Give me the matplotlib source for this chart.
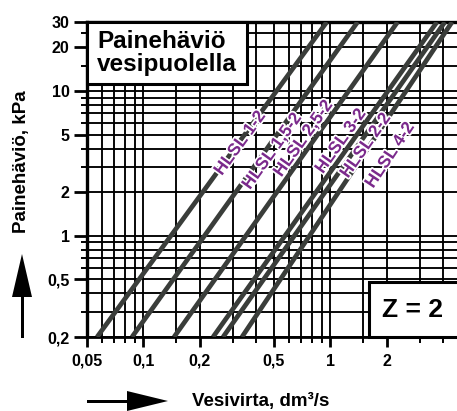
import numpy as np
import matplotlib
matplotlib.use("Agg")
import matplotlib.pyplot as plt
from matplotlib.patches import Rectangle, Polygon
from matplotlib.transforms import IdentityTransform
import matplotlib.patheffects as pe

# ---- data -------------------------------------------------------------
models = ["HLSL 1-2", "HLSL 1,5-2", "HLSL 2,5-2", "HLSL 3-2", "HLSL 2-2", "HLSL 4-2"]
# flow (dm3/s) at the bottom (0.2 kPa) and top (30 kPa) of each characteristic
dp_ends = [0.2, 30.0]
flow_at_low = [0.0566, 0.087, 0.146, 0.236, 0.267, 0.337]
flow_at_high = [0.958, 1.40, 2.29, 3.72, 4.10, 4.48]

# label anchor points (flow, pressure drop)
label_flow = [0.33, 0.49, 0.72, 1.14, 1.55, 2.09]
label_dp = [4.36, 3.84, 4.7, 4.5, 4.2, 3.6]

x_major = [0.05, 0.1, 0.2, 0.5, 1, 2]
x_major_labels = ["0,05", "0,1", "0,2", "0,5", "1", "2"]
x_minor = [0.06, 0.07, 0.08, 0.09, 0.15, 0.3, 0.4, 0.6, 0.7, 0.8, 0.9, 1.5, 3, 4]
y_major = [0.2, 0.5, 1, 2, 5, 10, 20, 30]
y_major_labels = ["0,2", "0,5", "1", "2", "5", "10", "20", "30"]
y_minor = [0.3, 0.4, 0.6, 0.7, 0.8, 0.9, 3, 4, 6, 7, 8, 9, 15, 25]

# ---- figure -----------------------------------------------------------
W, H = 457, 411
DPI = 100
plt.rcParams["font.family"] = ["Liberation Sans", "DejaVu Sans"]
plt.rcParams["font.weight"] = "bold"
fig = plt.figure(figsize=(W / DPI, H / DPI), dpi=DPI)

ax_l, ax_r, ax_t, ax_b = 87, 457, 22, 337
ax = fig.add_axes([ax_l / W, 1 - ax_b / H, (ax_r - ax_l) / W, (ax_b - ax_t) / H])
ax.set_xscale("log")
ax.set_yscale("log")
ax.set_xlim(0.05, 0.05 * 10 ** ((ax_r - ax_l) / 187))
ax.set_ylim(0.2, 30)

ax.set_xticks(x_major)
ax.set_xticklabels(x_major_labels)
ax.set_xticks(x_minor, minor=True)
ax.set_xticklabels([], minor=True)
ax.set_yticks(y_major)
ax.set_yticklabels(y_major_labels)
ax.set_yticks(y_minor, minor=True)
ax.set_yticklabels([], minor=True)

ax.tick_params(axis="x", which="major", direction="out", length=7, width=2.0,
               labelsize=11.5, pad=5)
ax.tick_params(axis="x", which="minor", direction="out", length=4.5, width=1.4)
ax.tick_params(axis="y", which="major", direction="out", length=9.5, width=2.0,
               labelsize=11.5, pad=3)
ax.tick_params(axis="y", which="minor", direction="out", length=4.5, width=1.4)
for lab in ax.get_xticklabels() + ax.get_yticklabels():
    lab.set_fontweight("bold")

ax.grid(True, which="both", color="black", linewidth=1.35)
ax.set_axisbelow(True)

for side in ("left", "top"):
    ax.spines[side].set_linewidth(2.4)
ax.spines["bottom"].set_linewidth(2.0)
ax.spines["right"].set_visible(False)

# characteristic lines
for lo, hi in zip(flow_at_low, flow_at_high):
    ax.plot([lo, hi], dp_ends, color="#3a3d3a", linewidth=3.4,
            solid_capstyle="butt", zorder=3)

# model labels rotated along each line
fig.canvas.draw()
for name, lo, hi, fx, fy in zip(models, flow_at_low, flow_at_high, label_flow, label_dp):
    p0 = ax.transData.transform((lo, dp_ends[0]))
    p1 = ax.transData.transform((hi, dp_ends[1]))
    ang = np.degrees(np.arctan2(p1[1] - p0[1], p1[0] - p0[0]))
    ax.text(fx, fy, name, rotation=ang, rotation_mode="anchor",
            ha="center", va="center", fontsize=12.5, fontweight="bold",
            color="#7b2a8c", zorder=6,
            path_effects=[pe.withStroke(linewidth=2.5, foreground="white")])

# title box in the upper left corner
box_bottom = (ax_b - 84) / (ax_b - ax_t)
ax.add_patch(Rectangle((0, box_bottom), (247 - ax_l) / (ax_r - ax_l), 1 - box_bottom,
                       transform=ax.transAxes, facecolor="white",
                       edgecolor="black", linewidth=2.2, zorder=4, clip_on=False))
ax.text((97 - ax_l) / (ax_r - ax_l), (ax_b - 53) / (ax_b - ax_t),
        "Painehäviö\nvesipuolella", transform=ax.transAxes, ha="left", va="center",
        fontsize=17.5, fontweight="bold", linespacing=1.05, zorder=5)

# pass count box in the lower right corner
z_left = (369 - ax_l) / (ax_r - ax_l)
ax.add_patch(Rectangle((z_left, 0), 1.02 - z_left, (ax_b - 282) / (ax_b - ax_t),
                       transform=ax.transAxes, facecolor="white",
                       edgecolor="black", linewidth=2.2, zorder=4, clip_on=False))
ax.text((412 - ax_l) / (ax_r - ax_l), (ax_b - 310) / (ax_b - ax_t), "Z = 2",
        transform=ax.transAxes, ha="center", va="center",
        fontsize=19, fontweight="bold", zorder=5)

# axis titles with direction arrows
fig.text(22 / W, 1 - 162 / H, "Painehäviö, kPa", rotation=90, ha="center",
         va="center", fontsize=13.5, fontweight="bold")
fig.text(261 / W, 1 - 401 / H, "Vesivirta, dm³/s", ha="center", va="center",
         fontsize=13.5, fontweight="bold")


def px(x, y):
    return (x, H - y)


ident = IdentityTransform()
fig.add_artist(Polygon([px(20.5, 338), px(23.5, 338), px(23.5, 296), px(20.5, 296)],
                       closed=True, facecolor="black", edgecolor="none", transform=ident))
fig.add_artist(Polygon([px(12, 297), px(32, 297), px(22, 254)],
                       closed=True, facecolor="black", edgecolor="none", transform=ident))
fig.add_artist(Polygon([px(87, 399.5), px(128, 399.5), px(128, 402.5), px(87, 402.5)],
                       closed=True, facecolor="black", edgecolor="none", transform=ident))
fig.add_artist(Polygon([px(127, 391), px(127, 411), px(168, 401)],
                       closed=True, facecolor="black", edgecolor="none", transform=ident))

fig.savefig("out.png", dpi=DPI)
